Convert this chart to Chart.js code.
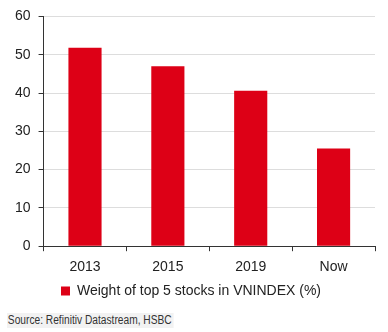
<!DOCTYPE html>
<html>
<head>
<meta charset="utf-8">
<script src="https://cdn.jsdelivr.net/npm/chart.js@4"></script>
<style>
  html, body { margin: 0; padding: 0; background: #fff; }
  #wrap { position: relative; width: 388px; height: 313px; }
  #source {
    position: absolute; left: 7px; top: 313px; height: 15px; line-height: 15px;
    font: 12px "Liberation Sans", Arial, sans-serif; color: #333;
    background: #f2f2f2; padding: 0 2px 0 1px;
    transform: scaleX(0.85); transform-origin: left center;
  }
</style>
</head>
<body>
<div id="wrap"><canvas id="chart"></canvas></div>
<div id="source">Source: Refinitiv Datastream, HSBC</div>
<script>
// Chart data
const categories = ['2013', '2015', '2019', 'Now'];
const weights = [51.8, 47, 40.6, 25.5];
const seriesLabel = 'Weight of top 5 stocks in VNINDEX (%)';

const fontFamily = '"Liberation Sans", Arial, sans-serif';

const ctx = document.getElementById('chart').getContext('2d');
new Chart(ctx, {
    type: 'bar',
    data: {
        labels: categories,
        datasets: [{
            label: seriesLabel,
            data: weights,
            backgroundColor: '#dd0016',
            borderWidth: 0,
            categoryPercentage: 0.4,
            barPercentage: 1.0
        }]
    },
    options: {
        responsive: true,
        maintainAspectRatio: false,
        animation: false,
        layout: { padding: { left: 7, right: 13, top: 7, bottom: 5 } },
        plugins: {
            legend: {
                position: 'bottom',
                labels: {
                    boxWidth: 9,
                    boxHeight: 9,
                    color: '#222',
                    font: { family: fontFamily, size: 14 },
                    padding: 0
                }
            },
            tooltip: { enabled: false }
        },
        scales: {
            x: {
                offset: true,
                grid: {
                    offset: true,
                    drawOnChartArea: false,
                    tickColor: '#333',
                    tickLength: 5
                },
                border: { color: '#333', width: 1 },
                ticks: {
                    color: '#222',
                    padding: 8,
                    font: { family: fontFamily, size: 14 }
                }
            },
            y: {
                min: 0,
                max: 60,
                ticks: {
                    stepSize: 10,
                    color: '#222',
                    padding: 8,
                    font: { family: fontFamily, size: 14 }
                },
                grid: {
                    color: '#dddddd',
                    tickColor: '#333',
                    tickLength: 5
                },
                border: { color: '#333', width: 1 }
            }
        }
    }
});
</script>
</body>
</html>
